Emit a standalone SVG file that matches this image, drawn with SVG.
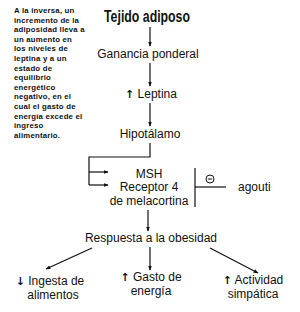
<svg xmlns="http://www.w3.org/2000/svg" width="300" height="312" viewBox="0 0 300 312">
<defs>
<style>
.t{font-family:"Liberation Sans",Arial,sans-serif;font-size:12px;fill:#111;text-anchor:middle}
.n{font-family:"Liberation Sans",Arial,sans-serif;font-size:7.8px;font-weight:bold;fill:#111;letter-spacing:0.2px}
.a{font-family:"DejaVu Sans",sans-serif;font-weight:bold;font-size:11px}
.c{stroke:#111;stroke-width:1.2;fill:none}
</style>
<marker id="ah" viewBox="0 0 8 8" refX="7" refY="4" markerWidth="5" markerHeight="5" orient="auto" markerUnits="userSpaceOnUse">
<path d="M0,1 L8,4 L0,7 Z" fill="#111"/>
</marker>
</defs>
<rect width="300" height="312" fill="#fff"/>
<g id="note">
<text class="n" x="14" y="13">A la inversa, un</text>
<text class="n" x="14" y="22.6">incremento de la</text>
<text class="n" x="14" y="32.2">adiposidad lleva a</text>
<text class="n" x="14" y="41.8">un aumento en</text>
<text class="n" x="14" y="51.4">los niveles de</text>
<text class="n" x="14" y="61">leptina y a un</text>
<text class="n" x="14" y="70.6">estado de</text>
<text class="n" x="14" y="80.2">equilibrio</text>
<text class="n" x="14" y="89.8">energético</text>
<text class="n" x="14" y="99.4">negativo, en el</text>
<text class="n" x="14" y="109">cual el gasto de</text>
<text class="n" x="14" y="118.6">energía excede el</text>
<text class="n" x="14" y="128.2">ingreso</text>
<text class="n" x="14" y="137.8">alimentario.</text>
</g>
<g id="connectors">
<line class="c" x1="150" y1="27" x2="150" y2="46" marker-end="url(#ah)"/>
<line class="c" x1="150" y1="63" x2="150" y2="86" marker-end="url(#ah)"/>
<line class="c" x1="150" y1="103" x2="150" y2="126" marker-end="url(#ah)"/>
<path class="c" d="M150,143 V157 H89 V185"/>
<line class="c" x1="89" y1="172" x2="108" y2="172" marker-end="url(#ah)"/>
<line class="c" x1="89" y1="185" x2="108" y2="185" marker-end="url(#ah)"/>
<line class="c" x1="195" y1="168" x2="195" y2="207"/>
<line class="c" x1="195" y1="187" x2="226" y2="187"/>
<line class="c" x1="148" y1="210" x2="148" y2="231" marker-end="url(#ah)"/>
<line class="c" x1="92" y1="248" x2="46" y2="269" marker-end="url(#ah)"/>
<line class="c" x1="150" y1="247" x2="150" y2="270" marker-end="url(#ah)"/>
<line class="c" x1="210" y1="248" x2="258" y2="273" marker-end="url(#ah)"/>
</g>
<g id="tejido">
<text class="t" x="147" y="22" style="font-size:16px;font-weight:bold" textLength="86" lengthAdjust="spacingAndGlyphs">Tejido adiposo</text>
</g>
<g id="ganancia"><text class="t" x="148" y="58">Ganancia ponderal</text></g>
<g id="leptina"><text class="t" x="151" y="98"><tspan class="a">↑</tspan> Leptina</text></g>
<g id="hipotalamo"><text class="t" x="150" y="138">Hipotálamo</text></g>
<g id="msh">
<text class="t" x="149" y="178">MSH</text>
<text class="t" x="149" y="191">Receptor 4</text>
<text class="t" x="149" y="205">de melacortina</text>
</g>
<g id="inhib">
<circle cx="210" cy="179" r="4" fill="none" stroke="#111" stroke-width="1"/>
<line x1="207.8" y1="179" x2="212.2" y2="179" stroke="#111" stroke-width="1"/>
</g>
<g id="agouti"><text class="t" x="238" y="191" style="text-anchor:start">agouti</text></g>
<g id="respuesta"><text class="t" x="151" y="242">Respuesta a la obesidad</text></g>
<g id="ingesta">
<text class="t" x="50" y="285"><tspan class="a">↓</tspan> Ingesta de</text>
<text class="t" x="53" y="299">alimentos</text>
</g>
<g id="gasto">
<text class="t" x="151" y="281"><tspan class="a">↑</tspan> Gasto de</text>
<text class="t" x="151" y="295">energía</text>
</g>
<g id="actividad">
<text class="t" x="253" y="284"><tspan class="a">↑</tspan> Actividad</text>
<text class="t" x="253" y="298">simpática</text>
</g>
</svg>
